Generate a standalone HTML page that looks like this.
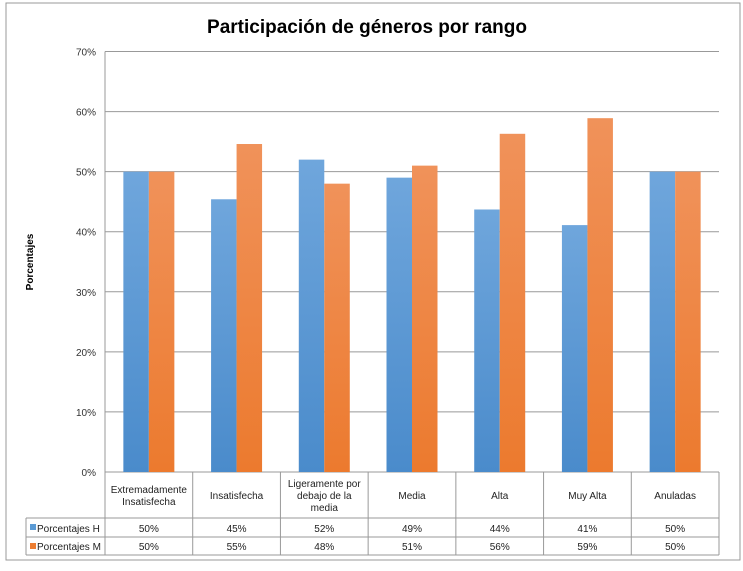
<!DOCTYPE html>
<html><head><meta charset="utf-8"><style>
body{margin:0;background:#fff;font-family:"Liberation Sans",sans-serif}
svg text{font-family:"Liberation Sans",sans-serif}
</style></head><body>
<svg width="743" height="566">
<defs>
<linearGradient id="gb" x1="0" y1="0" x2="0" y2="1"><stop offset="0" stop-color="#6fa6dc"/><stop offset="1" stop-color="#4a8bcb"/></linearGradient>
<linearGradient id="go" x1="0" y1="0" x2="0" y2="1"><stop offset="0" stop-color="#f0925a"/><stop offset="1" stop-color="#ec7a2e"/></linearGradient>
</defs>
<rect x="6" y="3" width="734" height="557" fill="#fff" stroke="#999"/>
<text x="367" y="33" font-size="19" font-weight="bold" text-anchor="middle" fill="#000">Participación de géneros por rango</text>
<text transform="translate(33,262) rotate(-90)" font-size="10" font-weight="bold" text-anchor="middle">Porcentajes</text>
<g id="grid"></g><g id="bars"></g><g id="table"></g>
</svg>
<script>
const categories=["Extremadamente|Insatisfecha","Insatisfecha","Ligeramente por|debajo de la|media","Media","Alta","Muy Alta","Anuladas"];
const valuesH=[50,45.4,52,49,43.7,41.1,50];
const valuesM=[50,54.6,48,51,56.3,58.9,50];
const labelsH=["50%","45%","52%","49%","44%","41%","50%"];
const labelsM=["50%","55%","48%","51%","56%","59%","50%"];
const ticks=[0,10,20,30,40,50,60,70];
const NS="http://www.w3.org/2000/svg";
const L=105,R=719,T=51.5,B=472,yMax=70;
const cw=(R-L)/categories.length;
function y(v){return B-(v/yMax)*(B-T);}
function mk(p,tag,a,txt){const e=document.createElementNS(NS,tag);for(const k in a)e.setAttribute(k,a[k]);if(txt!=null)e.textContent=txt;p.appendChild(e);return e;}
const grid=document.getElementById('grid'),bars=document.getElementById('bars'),table=document.getElementById('table');
ticks.forEach(t=>{
 const l=mk(grid,'line',{x1:L,x2:R,y1:y(t),y2:y(t),stroke:'#999','stroke-width':1});
 
 
 const tx=mk(grid,'text',{x:96,y:y(t)+4,'font-size':10,'text-anchor':'end',fill:'#333'},t+'%');
 
 
});
mk(grid,'line',{x1:L,x2:L,y1:T,y2:B,stroke:'#999'});
const bw=25.5;
categories.forEach((c,i)=>{
 const cx=L+cw*(i+0.5);
 const b1=mk(bars,'rect',{x:cx-bw,y:y(valuesH[i]),width:bw,height:B-y(valuesH[i]),fill:'url(#gb)'});
 
 
 const b2=mk(bars,'rect',{x:cx,y:y(valuesM[i]),width:bw,height:B-y(valuesM[i]),fill:'url(#go)'});
 
 
});
// table
const r0=472,r1=518,r2=537,r3=555,tl=26;
[r1,r2,r3].forEach(r=>mk(table,'line',{x1:tl,x2:R,y1:r,y2:r,stroke:'#999'}));
mk(table,'line',{x1:tl,x2:tl,y1:r1,y2:r3,stroke:'#999'});
for(let i=0;i<=categories.length;i++)mk(table,'line',{x1:L+cw*i,x2:L+cw*i,y1:r0,y2:r3,stroke:'#999'});
categories.forEach((c,i)=>{
 const cx=L+cw*(i+0.5);const lines=c.split('|');const st=(r0+r1)/2-(lines.length-1)*6+4;
 lines.forEach((ln,j)=>{const t=mk(table,'text',{x:cx,y:st+j*12,'font-size':10,'text-anchor':'middle',fill:'#222'},ln);
 
 });
 const a=mk(table,'text',{x:cx,y:r2-5,'font-size':10,'text-anchor':'middle',fill:'#222'},labelsH[i]);
 
 
 const b=mk(table,'text',{x:cx,y:r3-5,'font-size':10,'text-anchor':'middle',fill:'#222'},labelsM[i]);
 
 
});
mk(table,'rect',{x:30,y:r1+6,width:6,height:6,fill:'#5b9bd5'});
mk(table,'rect',{x:30,y:r2+6,width:6,height:6,fill:'#ed7d31'});
const lh=mk(table,'text',{x:37,y:r2-5,'font-size':10,fill:'#222'},'Porcentajes H');


const lm=mk(table,'text',{x:37,y:r3-5,'font-size':10,fill:'#222'},'Porcentajes M');


</script>
</body></html>
